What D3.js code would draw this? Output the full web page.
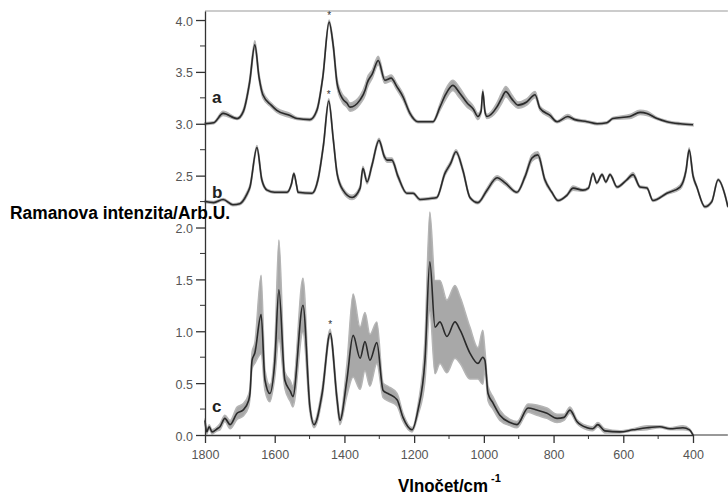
<html>
<head>
<meta charset="utf-8">
<title>Raman</title>
<style>
  body { margin: 0; background: #fff; }
</style>
</head>
<body>
<svg width='728' height='497'></svg>
<script src="https://d3js.org/d3.v7.min.js"></script>
<script>

// spectrum a : wavenumber, mean, sd
var wnA = [1800,1775,1748,1708,1690,1672,1657,1645,1634,1610,1594,1556,1536,1499,1479,1462,1444,1432,1421,1405,1393,1384,1355,1340,1335,1320,1303,1284,1266,1250,1232,1212,1189,1146,1126,1110,1089,1070,1048,1030,1017,1008,1003,997,991,963,950,937,920,902,877,853,839,810,790,759,739,704,675,647,630,581,552,532,503,475,437,400];
var meanA = [3.00,3.01,3.10,3.05,3.12,3.40,3.76,3.45,3.28,3.18,3.13,3.08,3.05,3.04,3.13,3.45,3.98,3.75,3.39,3.24,3.20,3.16,3.23,3.33,3.39,3.48,3.61,3.42,3.44,3.36,3.26,3.10,3.02,3.02,3.16,3.28,3.37,3.30,3.20,3.14,3.07,3.12,3.31,3.12,3.07,3.16,3.24,3.31,3.24,3.18,3.21,3.28,3.15,3.08,3.02,3.07,3.04,3.02,3.00,3.01,3.05,3.07,3.11,3.10,3.05,3.02,3.00,2.99];
var sdA = [.01,.01,.02,.01,.02,.03,.04,.03,.03,.02,.02,.02,.01,.01,.02,.02,.02,.03,.04,.04,.04,.04,.04,.05,.05,.04,.04,.03,.03,.03,.03,.02,.01,.01,.03,.05,.05,.05,.04,.03,.03,.02,.02,.02,.02,.04,.05,.05,.04,.03,.03,.03,.02,.02,.01,.02,.01,.01,.01,.01,.01,.02,.02,.02,.01,.01,.01,.01];

// spectrum b
var wnB = [1800,1775,1748,1720,1700,1680,1671,1651,1637,1622,1600,1565,1552,1545,1537,1533,1493,1476,1460,1445,1432,1421,1404,1378,1355,1347,1335,1321,1301,1285,1278,1264,1246,1221,1203,1183,1154,1135,1112,1095,1080,1060,1040,1017,991,962,939,905,882,862,845,825,805,787,762,744,716,700,687,676,661,650,638,618,590,572,552,532,515,475,437,420,411,400,389,366,346,328,308,300];
var meanB = [2.25,2.24,2.27,2.22,2.23,2.32,2.39,2.77,2.46,2.36,2.34,2.34,2.42,2.52,2.40,2.34,2.33,2.46,2.80,3.22,2.85,2.52,2.36,2.29,2.38,2.57,2.44,2.60,2.84,2.68,2.65,2.65,2.49,2.33,2.33,2.27,2.28,2.29,2.52,2.62,2.73,2.55,2.29,2.24,2.36,2.48,2.43,2.34,2.49,2.67,2.70,2.46,2.34,2.26,2.31,2.38,2.36,2.38,2.52,2.43,2.51,2.44,2.51,2.39,2.46,2.51,2.39,2.38,2.26,2.33,2.39,2.55,2.75,2.50,2.39,2.20,2.25,2.46,2.31,2.20];
var sdB = [.01,.01,.01,.01,.01,.02,.02,.02,.02,.01,.01,.01,.01,.01,.01,.01,.01,.02,.02,.02,.02,.02,.02,.02,.02,.02,.02,.02,.02,.02,.02,.02,.02,.01,.01,.01,.01,.01,.02,.02,.02,.02,.01,.01,.02,.02,.02,.01,.02,.03,.03,.02,.01,.01,.01,.02,.01,.01,.01,.01,.01,.01,.01,.01,.01,.02,.01,.01,.01,.01,.02,.02,.02,.02,.01,.01,.01,.01,.01,.01];

// spectrum c
var wnC = [1800,1795,1788,1780,1765,1757,1743,1728,1708,1691,1675,1671,1665,1657,1639,1628,1614,1600,1588,1571,1555,1548,1519,1499,1487,1464,1441,1421,1413,1393,1375,1355,1341,1327,1307,1289,1275,1249,1232,1206,1189,1169,1155,1140,1126,1106,1083,1068,1040,1017,1003,997,988,974,954,925,905,873,848,819,790,770,753,733,704,688,673,653,610,572,532,495,466,429,410,400];
var meanC = [0.14,0.03,0.08,0.03,0.06,0.08,0.16,0.10,0.21,0.24,0.33,0.40,0.72,0.79,1.16,0.53,0.40,0.70,1.40,0.53,0.42,0.37,1.25,0.27,0.10,0.40,0.98,0.34,0.14,0.53,0.96,0.74,0.90,0.72,0.89,0.43,0.40,0.34,0.17,0.05,0.24,0.72,1.67,1.04,1.09,0.95,1.09,1.01,0.79,0.69,0.75,0.72,0.40,0.31,0.19,0.12,0.10,0.26,0.24,0.21,0.16,0.17,0.24,0.13,0.07,0.06,0.10,0.04,0.03,0.05,0.07,0.08,0.06,0.07,0.05,0.00];
var sdC = [.02,.02,.02,.02,.02,.03,.03,.04,.06,.06,.06,.05,.08,.10,.38,.10,.08,.15,.48,.08,.10,.10,.26,.05,.03,.05,.04,.05,.04,.15,.40,.30,.28,.25,.20,.07,.07,.06,.04,.02,.05,.20,.48,.45,.40,.35,.35,.32,.25,.15,.26,.10,.07,.06,.05,.03,.03,.04,.05,.05,.04,.03,.03,.02,.02,.02,.02,.02,.01,.01,.02,.01,.01,.02,.01,.01];

var xTicks = [1800,1600,1400,1200,1000,800,600,400];
var xMinor = [1700,1500,1300,1100,900,700,500];
var yTicks = [0,0.5,1,1.5,2,2.5,3,3.5,4];
var yMinor = [0.25,0.75,1.25,1.75,2.25,2.75,3.25,3.75];

var svg = d3.select('svg');

var x = d3.scaleLinear().domain([1800, 400]).range([205, 693]);
var y = d3.scaleLinear().domain([0, 4.087]).range([435, 11]);

function pack(w, m, s) {
  return w.map(function(d, i){ return {w: d, m: m[i], s: s[i]}; });
}
var series = [
  {name: 'a', data: pack(wnA, meanA, sdA), star: 1444, lx: 212, ly: 103},
  {name: 'b', data: pack(wnB, meanB, sdB), star: 1445, lx: 212, ly: 198},
  {name: 'c', data: pack(wnC, meanC, sdC), star: 1441, lx: 212, ly: 412}
];

// top border
svg.append('line')
  .attr('x1', x(1800)).attr('x2', x(300))
  .attr('y1', y(4.087)).attr('y2', y(4.087))
  .style('stroke', '#bbb').style('stroke-width', 1.5);

var band = d3.area()
  .x(function(d){ return x(d.w); })
  .y0(function(d){ return y(d.m - d.s); })
  .y1(function(d){ return y(d.m + d.s); })
  .curve(d3.curveMonotoneX);

var line = d3.line()
  .x(function(d){ return x(d.w); })
  .y(function(d){ return y(d.m); })
  .curve(d3.curveMonotoneX);

series.forEach(function(s){
  svg.append('path')
    .attr('d', band(s.data))
    .style('fill', '#a8a8a8')
    .style('stroke', '#b5b5b5')
    .style('stroke-width', 1.5);
});
series.forEach(function(s){
  svg.append('path')
    .attr('d', line(s.data))
    .style('fill', 'none')
    .style('stroke', '#2a2a2a')
    .style('stroke-width', 1.6);
  var pk = s.data.filter(function(d){ return d.w == s.star; })[0];
  svg.append('text')
    .attr('x', x(pk.w)).attr('y', y(pk.m + pk.s) - 1)
    .attr('text-anchor', 'middle')
    .attr('font-family', 'Liberation Sans, Arial, sans-serif')
    .attr('font-size', '10px')
    .attr('fill', '#333')
    .text('*');
  svg.append('text')
    .attr('x', s.lx).attr('y', s.ly)
    .attr('font-family', 'Liberation Sans, Arial, sans-serif')
    .attr('font-weight', 'bold')
    .attr('font-size', '17px')
    .attr('fill', '#222')
    .text(s.name);
});

// x axis
var xAxis = svg.append('g')
  .attr('transform', 'translate(0,' + y(0) + ')')
  .call(d3.axisBottom(x).tickValues(xTicks).tickSize(8).tickSizeOuter(0).tickFormat(d3.format('d')));
xAxis.append('line')
  .attr('x1', x(400)).attr('x2', x(300))
  .style('stroke', '#333');
xAxis.selectAll('.tickm')
  .data(xMinor)
  .enter()
  .append('line')
  .attr('x1', function(d){ return x(d); })
  .attr('x2', function(d){ return x(d); })
  .attr('y2', 4)
  .style('stroke', '#333');

// y axis
var yAxis = svg.append('g')
  .attr('transform', 'translate(' + x(1800) + ',0)')
  .call(d3.axisLeft(y).tickValues(yTicks).tickSize(9).tickSizeOuter(0).tickFormat(d3.format('.1f')));
yAxis.selectAll('.tickm')
  .data(yMinor)
  .enter()
  .append('line')
  .attr('y1', function(d){ return y(d); })
  .attr('y2', function(d){ return y(d); })
  .attr('x2', -5)
  .style('stroke', '#333');

svg.selectAll('.domain, .tick line').style('stroke', '#333').style('stroke-width', 1.3);
svg.selectAll('.tick text')
  .attr('font-family', 'Liberation Sans, Arial, sans-serif')
  .attr('font-size', '12.5px')
  .attr('fill', '#555');
xAxis.selectAll('.tick text').attr('dy', '1.05em');
yAxis.selectAll('.tick text').attr('dy', '0.4em');

// axis titles
svg.append('text')
  .attr('x', 10).attr('y', 219)
  .attr('font-family', 'Liberation Sans, Arial, sans-serif')
  .attr('font-weight', 'bold')
  .attr('font-size', '18px')
  .attr('textLength', 220)
  .attr('lengthAdjust', 'spacingAndGlyphs')
  .attr('fill', '#000')
  .text('Ramanova intenzita/Arb.U.');

svg.append('text')
  .attr('x', 398).attr('y', 492)
  .attr('font-family', 'Liberation Sans, Arial, sans-serif')
  .attr('font-weight', 'bold')
  .attr('font-size', '19px')
  .attr('textLength', 90)
  .attr('lengthAdjust', 'spacingAndGlyphs')
  .attr('fill', '#000')
  .text('Vlnočet/cm');
svg.append('text')
  .attr('x', 491).attr('y', 482)
  .attr('font-family', 'Liberation Sans, Arial, sans-serif')
  .attr('font-weight', 'bold')
  .attr('font-size', '11px')
  .attr('fill', '#000')
  .text('-1');

</script>
</body>
</html>
